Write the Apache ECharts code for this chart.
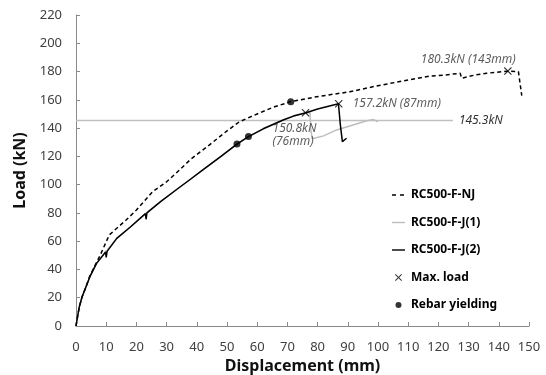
<!DOCTYPE html>
<html>
<head>
<meta charset="utf-8">
<script src="https://cdn.jsdelivr.net/npm/echarts@6/dist/echarts.min.js"></script>
<style>
  html, body { margin: 0; padding: 0; background: #fff; }
  #chart { width: 546px; height: 375px; }
</style>
</head>
<body>
<div id="chart"></div>
<script>
// data (displacement mm, load kN)
const njDisp = [0, 0.5, 1.1, 2, 3, 4.6, 8, 11, 16.6, 20, 25.4, 30, 33.1, 38, 44.1, 50, 54.1, 60, 65, 71.1, 79.7, 90.7, 100, 110, 117.2, 122, 127.2, 127.7, 132, 136, 142.8, 146.5, 147.6];
const njLoad = [0, 6.5, 13.6, 20.5, 26, 35.5, 50, 64.4, 75, 82, 95, 102, 108, 118, 128, 138, 144.5, 150, 154.5, 158.7, 162.2, 165.7, 170, 174, 176.8, 177.5, 178.8, 175.2, 177.5, 178.8, 180.3, 179.9, 163];

const j1Disp = [0, 0.5, 1.1, 2, 3, 4.6, 6.8, 10.1, 13.5, 18, 23, 28, 33.1, 38, 42, 48, 53.3, 57.1, 62, 68.6, 72, 76.2, 77.5, 77.7, 78.2, 82, 86.3, 91.7, 96.3, 98.5, 100];
const j1Load = [0, 6.5, 13.6, 20.5, 26, 34.9, 44.3, 53, 62, 70, 79.5, 88, 96.2, 104, 110.4, 120, 128.7, 134, 139.5, 145.7, 148.5, 150.8, 151, 140, 132.5, 134.5, 138.7, 142.2, 145.2, 146, 144.5];

const j2Disp = [0, 0.5, 1.1, 2, 3, 4.6, 6.8, 9.8, 10, 10.3, 13.5, 18, 23, 23.2, 23.5, 28, 33.1, 38, 42, 48, 53.3, 57.1, 62, 68.6, 72, 76.2, 80, 86.9, 87.5, 88.2, 89.6];
const j2Load = [0, 6.5, 13.6, 20.5, 26, 34.9, 44.3, 52.4, 48.5, 52.8, 62, 70, 79.5, 75.5, 80, 88, 96.2, 104, 110.4, 120, 128.7, 134, 139.5, 145.7, 148.5, 150.8, 153.5, 157.2, 143, 130.4, 132.8];

const maxDisp = [76, 87, 143];
const maxLoad = [150.8, 157.2, 180.3];
const maxText = ['150.8kN\n(76mm)', '157.2kN (87mm)', '180.3kN (143mm)'];

const yieldDisp = [53.3, 57.1, 71.1];
const yieldLoad = [128.7, 134, 158.7];

const refLoad = 145.3;
const refEnd = 124.8;

const seriesNames = ['RC500-F-NJ', 'RC500-F-J(1)', 'RC500-F-J(2)', 'Max. load', 'Rebar yielding'];

const xTicks = { min: 0, max: 150, interval: 10 };
const yTicks = { min: 0, max: 220, interval: 20 };

const zip = (a, b) => a.map((v, i) => [v, b[i]]);
const crossPath = 'path://M0,1L1,0L5,4L9,0L10,1L6,5L10,9L9,10L5,6L1,10L0,9L4,5Z';

// legend icons, all drawn in the same 15x14 box
const box = 'path://M0,0L0,0M15,14L15,14';
const legendIcons = [
  box + 'M1,6.3H5V7.7H1ZM9,6.3H13V7.7H9Z',
  box + 'M1,6.3H14V7.7H1Z',
  box + 'M1,6.3H14V7.7H1Z',
  box + 'M4,4.2L4.7,3.5L7.5,6.3L10.3,3.5L11,4.2L8.2,7L11,9.8L10.3,10.5L7.5,7.7L4.7,10.5L4,9.8L6.8,7Z',
  box + 'M4.5,7A3,3 0 1 1 10.5,7A3,3 0 1 1 4.5,7Z'
];

// label placement for each max point
const maxLabelPos = [[-29, 13], [18, -3], [-83, -14]];

const chart = echarts.init(document.getElementById('chart'));
const tickFont = { fontFamily: 'Noto Sans', fontSize: 13, color: '#404040' };

chart.setOption({
  animation: false,
  textStyle: { fontFamily: 'Noto Sans' },
  grid: { left: 76, right: 17, top: 15, bottom: 49, outerBoundsMode: 'none' },
  legend: {
    orient: 'vertical',
    left: 386,
    top: 183,
    itemWidth: 15,
    itemHeight: 14,
    itemGap: 13.5,
    symbolKeepAspect: true,
    data: seriesNames.map((n, i) => ({ name: n, icon: legendIcons[i] })),
    textStyle: { fontFamily: 'Noto Sans', fontSize: 12, fontWeight: 'bold', color: '#000' }
  },
  xAxis: {
    type: 'value',
    min: xTicks.min, max: xTicks.max, interval: xTicks.interval,
    name: 'Displacement (mm)',
    nameLocation: 'middle',
    nameGap: 31,
    nameTextStyle: { fontFamily: 'Noto Sans', fontSize: 16, fontWeight: 'bold', color: '#111' },
    axisLine: { lineStyle: { color: '#8a8a8a', width: 1 } },
    axisTick: { inside: true, length: 4, lineStyle: { color: '#8a8a8a' } },
    axisLabel: Object.assign({ margin: 15 }, tickFont),
    splitLine: { show: false }
  },
  yAxis: {
    type: 'value',
    min: yTicks.min, max: yTicks.max, interval: yTicks.interval,
    name: 'Load (kN)',
    nameLocation: 'middle',
    nameGap: 41,
    nameTextStyle: { fontFamily: 'Noto Sans', fontSize: 16, fontWeight: 'bold', color: '#111' },
    axisLine: { show: true, lineStyle: { color: '#8a8a8a', width: 1 } },
    axisTick: { show: true, inside: true, length: 4, lineStyle: { color: '#8a8a8a' } },
    axisLabel: Object.assign({ margin: 14 }, tickFont),
    splitLine: { show: false }
  },
  series: [
    {
      name: 'ref',
      type: 'line',
      data: [[0, refLoad], [refEnd, refLoad]],
      symbol: 'none',
      lineStyle: { color: '#c0c0c0', width: 1.5 },
      endLabel: {
        show: true,
        formatter: refLoad + 'kN',
        distance: 6,
        fontFamily: 'Noto Sans', fontSize: 12, fontStyle: 'italic', color: '#333'
      },
      z: 1
    },
    {
      name: seriesNames[1],
      type: 'line',
      data: zip(j1Disp, j1Load),
      symbol: 'none',
      color: '#bdbdbd',
      lineStyle: { color: '#bdbdbd', width: 1.5 },
      z: 2
    },
    {
      name: seriesNames[0],
      type: 'line',
      data: zip(njDisp, njLoad),
      symbol: 'none',
      color: '#000',
      lineStyle: { color: '#000', width: 1.5, type: [4, 3] },
      z: 3
    },
    {
      name: seriesNames[2],
      type: 'line',
      data: zip(j2Disp, j2Load),
      symbol: 'none',
      color: '#000',
      lineStyle: { color: '#000', width: 1.5 },
      z: 3
    },
    {
      name: seriesNames[3],
      type: 'scatter',
      symbol: crossPath,
      symbolSize: 8,
      itemStyle: { color: '#000' },
      data: maxDisp.map((d, i) => ({
        value: [d, maxLoad[i]],
        label: {
          show: true,
          formatter: maxText[i],
          position: maxLabelPos[i],
          align: 'left',
          verticalAlign: 'top',
          fontFamily: 'Noto Sans', fontSize: 12, fontStyle: 'italic', color: '#333',
          lineHeight: 13
        }
      })),
      z: 5
    },
    {
      name: seriesNames[4],
      type: 'scatter',
      symbol: 'circle',
      symbolSize: 7,
      itemStyle: { color: '#000' },
      data: zip(yieldDisp, yieldLoad),
      z: 5
    }
  ]
});
</script>
</body>
</html>
